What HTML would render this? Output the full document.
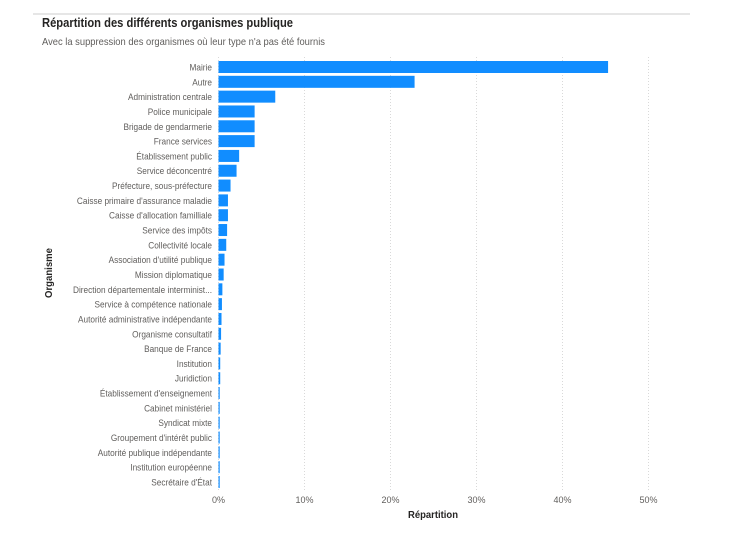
<!DOCTYPE html>
<html><head><meta charset="utf-8"><style>
body{margin:0;width:731px;height:528px;background:#fff;font-family:"Liberation Sans",sans-serif;overflow:hidden}
</style></head><body>
<svg width="731" height="528" id="c">
<rect x="33" y="13" width="657" height="2" fill="#e6e6e6"/>
<text x="42" y="27" font-size="13" fill="#252423" font-weight="bold" textLength="251" lengthAdjust="spacingAndGlyphs">Répartition des différents organismes publique</text>
<text x="42" y="45" font-size="10.5" fill="#605e5c" textLength="283" lengthAdjust="spacingAndGlyphs">Avec la suppression des organismes où leur type n'a pas été fournis</text>
<text x="0" y="0" font-size="10" font-weight="bold" fill="#252423" text-anchor="middle" transform="translate(52,273) rotate(-90)" textLength="50" lengthAdjust="spacingAndGlyphs">Organisme</text>
<text x="433" y="518" font-size="10.5" font-weight="bold" fill="#252423" text-anchor="middle" textLength="50" lengthAdjust="spacingAndGlyphs">Répartition</text>
<g id="grid"></g><g id="bars"></g><g id="labels" transform="translate(212,0) scale(0.87,1) translate(-212,0)"></g>
</svg>
<script>
const categories=["Mairie","Autre","Administration centrale","Police municipale","Brigade de gendarmerie","France services","Établissement public","Service déconcentré","Préfecture, sous-préfecture","Caisse primaire d'assurance maladie","Caisse d'allocation familliale","Service des impôts","Collectivité locale","Association d'utilité publique","Mission diplomatique","Direction départementale interminist...","Service à compétence nationale","Autorité administrative indépendante","Organisme consultatif","Banque de France","Institution","Juridiction","Établissement d'enseignement","Cabinet ministériel","Syndicat mixte","Groupement d'intérêt public","Autorité publique indépendante","Institution européenne","Secrétaire d'État"];
const values=[45.3,22.8,6.6,4.2,4.2,4.2,2.4,2.1,1.4,1.1,1.1,1.0,0.9,0.7,0.6,0.45,0.4,0.35,0.3,0.25,0.2,0.2,0.12,0.1,0.08,0.08,0.06,0.05,0.05];
const ticks=[0,10,20,30,40,50];
const NS="http://www.w3.org/2000/svg";
const x0=218.5,pxPer=8.6,y0=67,step=(482-67)/(categories.length-1),bh=12;
const xs=v=>x0+v*pxPer, ys=i=>y0+i*step;
const grid=document.getElementById('grid'),bars=document.getElementById('bars'),labels=document.getElementById('labels');
ticks.forEach(t=>{
 const l=document.createElementNS(NS,'line');
 l.setAttribute('x1',xs(t));l.setAttribute('x2',xs(t));l.setAttribute('y1',57);l.setAttribute('y2',490);
 l.setAttribute('stroke','#d9d9d9');l.setAttribute('stroke-dasharray','1,2');
 
 
 grid.appendChild(l);
 const tx=document.createElementNS(NS,'text');
 tx.setAttribute('x',xs(t));tx.setAttribute('y',503);tx.setAttribute('font-size','9');tx.setAttribute('fill','#605e5c');tx.setAttribute('text-anchor','middle');
 tx.textContent=t+'%';
 
 
 grid.appendChild(tx);
});
categories.forEach((c,i)=>{
 const r=document.createElementNS(NS,'rect');
 r.setAttribute('x',x0);r.setAttribute('y',ys(i)-bh/2);r.setAttribute('width',Math.max(1.2,xs(values[i])-x0));r.setAttribute('height',bh);r.setAttribute('fill','#118dff');
 
 
 bars.appendChild(r);
 const t=document.createElementNS(NS,'text');
 t.setAttribute('x',212);t.setAttribute('y',ys(i)+3.5);t.setAttribute('font-size','9.5');t.setAttribute('fill','#605e5c');t.setAttribute('text-anchor','end');
 t.textContent=c;
 
 
 labels.appendChild(t);
});
</script>
</body></html>
